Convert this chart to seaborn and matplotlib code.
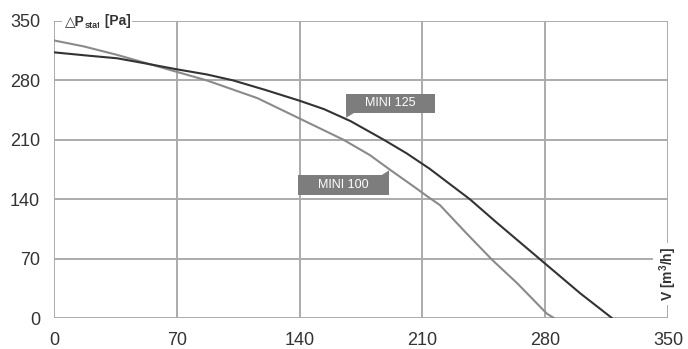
import pandas as pd
import matplotlib
matplotlib.use('Agg')
import matplotlib.pyplot as plt
import seaborn as sb
from matplotlib.patches import Rectangle, Polygon

# fan curves
mini125_flow = [0, 20, 36, 52, 70, 87, 102, 120, 140, 154, 169, 188, 201, 214, 237, 252, 280, 300, 318]
mini125_pres = [313, 309, 306, 300, 293, 287, 280, 269, 256, 246, 232, 210, 194, 176, 140, 113, 64, 29, 0]
mini100_flow = [0, 17, 36, 53, 70, 87, 116, 140, 152, 165, 180, 192, 205, 213, 220, 235, 250, 264, 281, 285]
mini100_pres = [327, 320, 310, 300, 290, 280, 259, 235, 223, 210, 192, 174, 155, 143, 133, 100, 68, 41, 5, 0]
ticks = [0, 70, 140, 210, 280, 350]

sb.set_style('white')
plt.rcParams['font.family'] = ['Liberation Sans', 'DejaVu Sans']
plt.rcParams['mathtext.fontset'] = 'custom'
plt.rcParams['mathtext.rm'] = 'Liberation Sans'
plt.rcParams['mathtext.bf'] = 'Liberation Sans:bold'

grid_col = '#ababab'
txt_col = '#333333'

fig = plt.figure(figsize=(6.88, 3.49), dpi=100)
ax = fig.add_axes([0.0785, 0.0888, 0.8925, 0.8512])

df125 = pd.DataFrame({'flow': mini125_flow, 'pres': mini125_pres})
df100 = pd.DataFrame({'flow': mini100_flow, 'pres': mini100_pres})
sb.lineplot(data=df100, x='flow', y='pres', ax=ax, color='#8a8a8a', lw=1.5, sort=False, zorder=3)
sb.lineplot(data=df125, x='flow', y='pres', ax=ax, color='#333333', lw=1.5, sort=False, zorder=4)

ax.set_xlim(0, 350)
ax.set_ylim(0, 350)
ax.set_xticks(ticks)
ax.set_yticks(ticks)
ax.tick_params(length=0, labelsize=13, labelcolor=txt_col, pad=10)
ax.grid(True, color=grid_col, lw=1.4)
ax.set_axisbelow(True)
for s in ax.spines.values():
    s.set_visible(False)
ax.set_xlabel('')
ax.set_ylabel('')

# axis titles sitting on the frame
wbox = dict(boxstyle='square,pad=0.15', fc='white', ec='none')
t1 = ax.text(6, 350, '△P', fontsize=10, fontweight='bold', color=txt_col,
             ha='left', va='center', zorder=5, bbox=wbox)
t2 = ax.annotate('stat', xy=(1, 0.2), xycoords=t1, fontsize=6.5, fontweight='bold',
                 color=txt_col, ha='left', va='center', zorder=5, bbox=wbox)
ax.annotate(' [Pa]', xy=(1, 0), xycoords=(t2, t1), fontsize=10, fontweight='bold',
            color=txt_col, ha='left', va='bottom', zorder=5, bbox=wbox)
ax.text(350, 52, r'V [m$^{\mathbf{3}}$/h]', fontsize=10, fontweight='bold', color=txt_col,
        rotation=90, ha='center', va='center', zorder=5,
        bbox=dict(boxstyle='square,pad=0.3', fc='white', ec='none'))

# curve labels
box_col = '#7d7d7d'
ax.add_patch(Rectangle((166.5, 241.5), 50.5, 22.5, fc=box_col, ec='none', zorder=6))
ax.add_patch(Polygon([(166.5, 241.5), (171, 241.5), (166.5, 236)], fc=box_col, ec='none', zorder=6))
ax.text(191.7, 252.8, 'MINI 125', color='white', fontsize=9, ha='center', va='center', zorder=7)
ax.add_patch(Rectangle((139, 145), 52, 23, fc=box_col, ec='none', zorder=6))
ax.add_patch(Polygon([(191, 168), (186.5, 168), (191, 174)], fc=box_col, ec='none', zorder=6))
ax.text(165, 156.5, 'MINI 100', color='white', fontsize=9, ha='center', va='center', zorder=7)

plt.savefig('out.png', dpi=100)
